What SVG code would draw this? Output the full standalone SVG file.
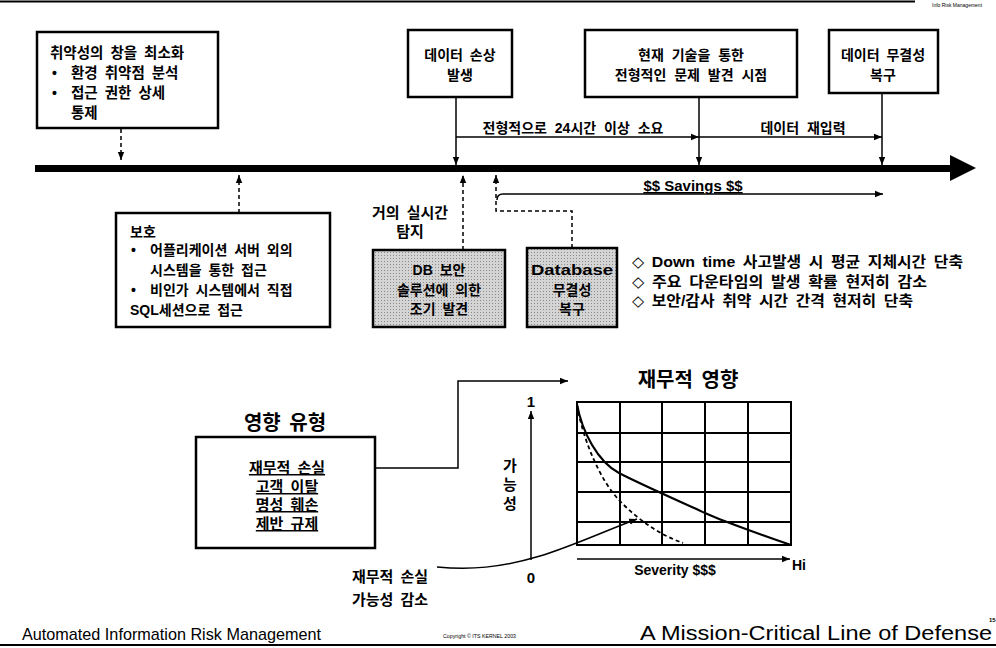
<svg xmlns="http://www.w3.org/2000/svg" width="996" height="648" viewBox="0 0 996 648">
<style>
text{font-family:"Liberation Sans","Noto Sans CJK KR",sans-serif;fill:#000}
.k{font-size:14px;font-weight:bold;word-spacing:3px}
.c{text-anchor:middle}
.box{fill:#fff;stroke:#000;stroke-width:2.5}
.gbox{fill:url(#hatch);stroke:#000;stroke-width:2.5}
.ln{fill:none;stroke:#000;stroke-width:1.5}
.ds{fill:none;stroke:#000;stroke-width:1.5;stroke-dasharray:4 3}
.grid{fill:none;stroke:#000;stroke-width:2}
.t20{font-size:20px;font-weight:bold;word-spacing:3px}
.u{text-decoration:underline}
.b15{font-size:15px;font-weight:bold;word-spacing:3px}
.dia{font-family:"DejaVu Sans",sans-serif;font-weight:normal}
</style>
<defs>
<marker id="ah" viewBox="0 0 10 10" refX="10" refY="5" markerWidth="8" markerHeight="8" markerUnits="userSpaceOnUse" orient="auto"><path d="M0,1L10,5L0,9z"/></marker>
<pattern id="hatch" width="3" height="3" patternUnits="userSpaceOnUse"><rect width="3" height="3" fill="#d4d4d4"/><rect width="1" height="1" fill="#8a8a8a"/></pattern>
</defs>
<rect width="996" height="648" fill="#fff"/>

<g id="frame">
<line x1="0" y1="1.5" x2="915" y2="1.5" stroke="#000" stroke-width="2"/>
<text x="932" y="7" font-size="5" fill="#555">Info Risk Management</text>
<line x1="0" y1="645" x2="996" y2="645" stroke="#000" stroke-width="2"/>
</g>

<g id="timeline">
<rect x="35" y="165" width="918" height="7"/>
<path d="M950,155L976,168L950,181z"/>
</g>

<g id="connectors">
<path class="ds" d="M121,129V160" marker-end="url(#ah)"/>
<path class="ln" d="M456,97V165" marker-end="url(#ah)"/>
<path class="ln" d="M699,97V165" marker-end="url(#ah)"/>
<path class="ln" d="M882,93V165" marker-end="url(#ah)"/>
<path class="ln" d="M456,137H699" marker-end="url(#ah)"/>
<path class="ln" d="M699,137H882" marker-end="url(#ah)"/>
<path class="ds" d="M239,213V175" marker-end="url(#ah)"/>
<path class="ds" d="M463,250V175" marker-end="url(#ah)"/>
<path class="ds" d="M572,248V211H496V175" marker-end="url(#ah)"/>
<path class="ln" d="M497,200Q497,194 503,194H883" marker-end="url(#ah)"/>
<path class="ln" d="M345,468H458V381H568" marker-end="url(#ah)"/>
<path class="ln" d="M531,560V411" marker-end="url(#ah)"/>
<path class="ln" d="M577,559H790" marker-end="url(#ah)"/>
<path class="ln" stroke-width="2" d="M437,567C470,570 500,568 540,556C570,547 600,533 637,519" marker-end="url(#ah)"/>
</g>

<g id="minimize">
<rect class="box" x="37" y="32" width="181" height="96"/>
<text class="k" x="50" y="58" style="font-size:14.5px">취약성의 창을 최소화</text>
<text class="k" x="52" y="78">•</text><text class="k" x="71" y="78" style="font-size:14.5px">환경 취약점 분석</text>
<text class="k" x="52" y="98">•</text><text class="k" x="71" y="98" style="font-size:14.5px">접근 권한 상세</text>
<text class="k" x="71" y="118" style="font-size:14.5px">통제</text>
</g>

<g id="damage">
<rect class="box" x="408" y="30" width="104" height="67"/>
<text class="k c" x="460" y="60">데이터 손상</text>
<text class="k c" x="460" y="80">발생</text>
</g>

<g id="discovery">
<rect class="box" x="585" y="30" width="212" height="67"/>
<text class="k c" x="691" y="60" style="word-spacing:4px">현재 기술을 통한</text>
<text class="k c" x="691" y="80" style="word-spacing:4px">전형적인 문제 발견 시점</text>
</g>

<g id="restore">
<rect class="box" x="829" y="30" width="109" height="63"/>
<text class="k c" x="883" y="60">데이터 무결성</text>
<text class="k c" x="883" y="80">복구</text>
</g>

<g id="timeline-labels">
<text class="k c" x="573" y="133" style="word-spacing:4px">전형적으로 24시간 이상 소요</text>
<text class="k c" x="803" y="133" style="word-spacing:4px">데이터 재입력</text>
<text x="693" y="191" class="c u" font-size="15" font-weight="bold">$$ Savings $$</text>
</g>

<g id="protect">
<rect class="box" x="116" y="213" width="214" height="114"/>
<text class="k" x="130" y="237">보호</text>
<text class="k" x="131" y="255">•</text><text class="k" x="150" y="255">어플리케이션 서버 외의</text>
<text class="k" x="150" y="275">시스템을 통한 접근</text>
<text class="k" x="131" y="295">•</text><text class="k" x="150" y="295">비인가 시스템에서 직접</text>
<text class="k" x="130" y="315">SQL세션으로 접근</text>
</g>

<g id="realtime">
<text class="k c" x="410" y="218" style="font-size:15px">거의 실시간</text>
<text class="k c" x="410" y="237" style="font-size:15px">탐지</text>
</g>

<g id="dbsec">
<rect class="gbox" x="373" y="250" width="132" height="77"/>
<text class="k c" x="439" y="275">DB 보안</text>
<text class="k c" x="439" y="295">솔루션에 의한</text>
<text class="k c" x="439" y="314">조기 발견</text>
</g>

<g id="dbrestore">
<rect class="gbox" x="527" y="248" width="90" height="79"/>
<text class="k c" x="572" y="275" textLength="82" lengthAdjust="spacingAndGlyphs">Database</text>
<text class="k c" x="572" y="295">무결성</text>
<text class="k c" x="572" y="314">복구</text>
</g>

<g id="benefits" font-size="15" font-weight="bold" style="word-spacing:3px">
<text x="632" y="267" textLength="331" lengthAdjust="spacingAndGlyphs"><tspan class="dia">◇</tspan> Down time 사고발생 시  평균 지체시간 단축</text>
<text x="632" y="287" textLength="295" lengthAdjust="spacingAndGlyphs"><tspan class="dia">◇</tspan> 주요 다운타임의 발생 확률 현저히 감소</text>
<text x="632" y="306" textLength="281" lengthAdjust="spacingAndGlyphs"><tspan class="dia">◇</tspan> 보안/감사 취약 시간 간격 현저히 단축</text>
</g>

<g id="impact-types">
<text class="t20 c" x="285" y="430">영향 유형</text>
<rect class="box" x="196" y="437" width="179" height="111"/>
<text class="b15 c u" x="287" y="473">재무적 손실</text>
<text class="b15 c u" x="287" y="492">고객 이탈</text>
<text class="b15 c u" x="287" y="510">명성 훼손</text>
<text class="b15 c u" x="287" y="529">제반 규제</text>
</g>

<g id="chart">
<text class="t20 c" x="688" y="387">재무적 영향</text>
<rect class="grid" x="577" y="402" width="214" height="143"/>
<path class="grid" d="M620,402V545M662,402V545M705,402V545M748,402V545M577,433H791M577,462H791M577,492H791M577,522H791"/>
<path fill="none" stroke="#000" stroke-width="2" d="M577,404C582,432 598,462 619,473S690,506 705,513S770,538 791,545"/>
<path fill="none" stroke="#000" stroke-width="1.8" stroke-dasharray="4 3" d="M577,405C583,440 600,480 619,500S660,535 683,543"/>
<text class="b15 c" x="531" y="407" font-size="14">1</text>
<text class="b15 c" x="531" y="583" font-size="14">0</text>
<text class="b15 c" x="510" y="471">가</text>
<text class="b15 c" x="510" y="490">능</text>
<text class="b15 c" x="510" y="509">성</text>
<text class="c" x="675" y="575" font-size="14" font-weight="bold">Severity $$$</text>
<text x="792" y="570" font-size="14" font-weight="bold">Hi</text>
</g>

<g id="reduce-label">
<text class="b15 c" x="390" y="582">재무적 손실</text>
<text class="b15 c" x="390" y="605">가능성 감소</text>
</g>

<g id="footer">
<text x="22" y="640" font-size="17" textLength="299" lengthAdjust="spacingAndGlyphs">Automated Information Risk Management</text>
<text x="443" y="638" font-size="6" textLength="73" lengthAdjust="spacingAndGlyphs">Copyright © ITS KERNEL 2003</text>
<text x="640" y="640" font-size="20" textLength="352" lengthAdjust="spacingAndGlyphs">A Mission-Critical Line of Defense</text>
<text x="989" y="622" font-size="6" font-weight="bold">15</text>
</g>
</svg>
